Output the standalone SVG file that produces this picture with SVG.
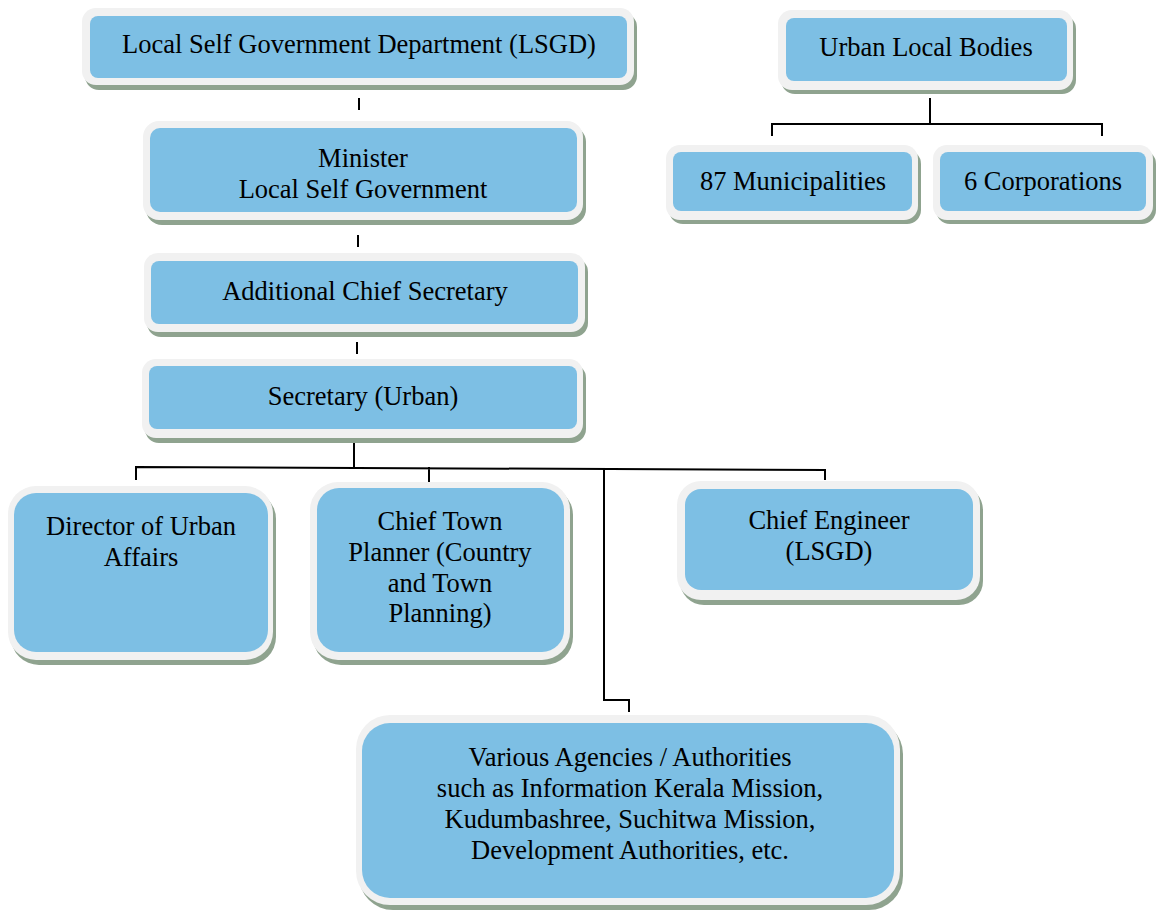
<svg xmlns="http://www.w3.org/2000/svg" width="1157" height="910" viewBox="0 0 1157 910">
<style>
.sh{fill:#8fa38f}
.out{fill:#f1f1f1}
.in{fill:#7dbfe4}
.t{font-family:'Liberation Serif','Times New Roman',Times,serif;font-size:26.5px;fill:#000;text-anchor:middle}
.c{fill:none;stroke:#000;stroke-width:2}
</style>
<rect width="1157" height="910" fill="#fff"/>
<g id="connectors">
<path class="c" d="M359 98V110"/>
<path class="c" d="M358 235V247"/>
<path class="c" d="M357 342V354"/>
<path class="c" d="M354 443V467M136 480V467L825 470V480M429 467V482M604 468V700H629V712"/>
<path class="c" d="M930 98V124M772 136V124H1102V136"/>
</g>
<g id="n-lsgd">
<rect class="sh" x="85" y="13" width="552" height="77" rx="14"/>
<rect class="out" x="82" y="8" width="552" height="77" rx="14"/>
<rect class="in" x="90" y="16" width="537" height="62" rx="8"/>
<text class="t" x="359" y="53">Local Self Government Department (LSGD)</text>
</g>
<g id="n-ulb">
<rect class="sh" x="781" y="15" width="295" height="79" rx="14"/>
<rect class="out" x="778" y="10" width="295" height="80" rx="14"/>
<rect class="in" x="786" y="18" width="281" height="63" rx="8"/>
<text class="t" x="926" y="56">Urban Local Bodies</text>
</g>
<g id="n-mun">
<rect class="sh" x="669" y="150" width="252" height="74" rx="14"/>
<rect class="out" x="666" y="145" width="252" height="75" rx="14"/>
<rect class="in" x="673" y="152" width="239" height="59" rx="8"/>
<text class="t" x="793" y="190">87 Municipalities</text>
</g>
<g id="n-corp">
<rect class="sh" x="936" y="150" width="220" height="74" rx="14"/>
<rect class="out" x="933" y="145" width="220" height="75" rx="14"/>
<rect class="in" x="940" y="152" width="206" height="59" rx="8"/>
<text class="t" x="1043" y="190">6 Corporations</text>
</g>
<g id="n-minister">
<rect class="sh" x="146" y="126" width="440" height="99" rx="16"/>
<rect class="out" x="143" y="121" width="440" height="99" rx="16"/>
<rect class="in" x="150" y="128" width="427" height="84" rx="10"/>
<text class="t" x="363" y="167">Minister</text>
<text class="t" x="363" y="198">Local Self Government</text>
</g>
<g id="n-acs">
<rect class="sh" x="147" y="258" width="441" height="79" rx="14"/>
<rect class="out" x="144" y="253" width="441" height="79" rx="14"/>
<rect class="in" x="151" y="261" width="427" height="63" rx="8"/>
<text class="t" x="365" y="300">Additional Chief Secretary</text>
</g>
<g id="n-sec">
<rect class="sh" x="145" y="364" width="441" height="79" rx="14"/>
<rect class="out" x="142" y="359" width="441" height="79" rx="14"/>
<rect class="in" x="149" y="366" width="428" height="63" rx="8"/>
<text class="t" x="363" y="405">Secretary (Urban)</text>
</g>
<g id="n-dua">
<rect class="sh" x="11" y="491" width="265" height="174" rx="28"/>
<rect class="out" x="8" y="486" width="265" height="174" rx="28"/>
<rect class="in" x="14" y="493" width="254" height="159" rx="22"/>
<text class="t" x="141" y="535">Director of Urban</text>
<text class="t" x="141" y="566">Affairs</text>
</g>
<g id="n-ctp">
<rect class="sh" x="313" y="487" width="260" height="178" rx="28"/>
<rect class="out" x="310" y="482" width="260" height="178" rx="28"/>
<rect class="in" x="317" y="488" width="247" height="164" rx="22"/>
<text class="t" x="440" y="530">Chief Town</text>
<text class="t" x="440" y="561">Planner (Country</text>
<text class="t" x="440" y="592">and Town</text>
<text class="t" x="440" y="622">Planning)</text>
</g>
<g id="n-ce">
<rect class="sh" x="680" y="486" width="303" height="119" rx="24"/>
<rect class="out" x="677" y="481" width="303" height="119" rx="24"/>
<rect class="in" x="685" y="489" width="288" height="101" rx="16"/>
<text class="t" x="829" y="529">Chief Engineer</text>
<text class="t" x="829" y="560">(LSGD)</text>
</g>
<g id="n-agencies">
<rect class="sh" x="359" y="720" width="544" height="190" rx="34"/>
<rect class="out" x="356" y="715" width="544" height="190" rx="34"/>
<rect class="in" x="362" y="723" width="532" height="175" rx="28"/>
<text class="t" x="630" y="766">Various Agencies / Authorities</text>
<text class="t" x="630" y="797">such as Information Kerala Mission,</text>
<text class="t" x="630" y="828">Kudumbashree, Suchitwa Mission,</text>
<text class="t" x="630" y="859">Development Authorities, etc.</text>
</g>
</svg>
